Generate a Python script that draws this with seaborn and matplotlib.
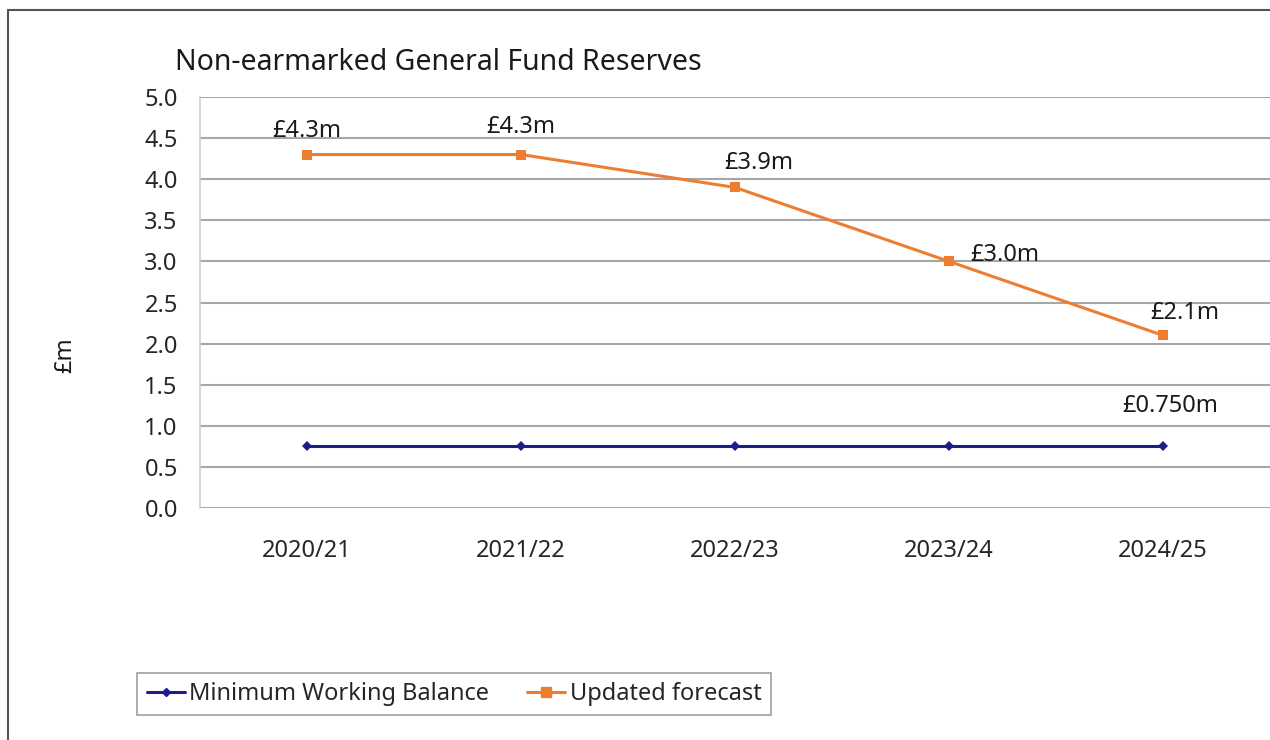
import matplotlib
matplotlib.use("Agg")
import matplotlib.pyplot as plt
import seaborn as sns
import pandas as pd
from matplotlib.lines import Line2D

# Data
years = ["2020/21", "2021/22", "2022/23", "2023/24", "2024/25"]
min_balance = [0.75, 0.75, 0.75, 0.75, 0.75]
forecast = [4.3, 4.3, 3.9, 3.0, 2.1]
forecast_labels = ["£4.3m", "£4.3m", "£3.9m", "£3.0m", "£2.1m"]
min_label = "£0.750m"
y_ticks = [0.0, 0.5, 1.0, 1.5, 2.0, 2.5, 3.0, 3.5, 4.0, 4.5, 5.0]

df = pd.DataFrame({
    "Year": years * 2,
    "Value": min_balance + forecast,
    "Series": ["Minimum Working Balance"] * 5 + ["Updated forecast"] * 5,
})

sns.set_style("white")
plt.rcParams["font.family"] = ["Noto Sans", "DejaVu Sans"]

blue = "#1c1c8c"
orange = "#ed7d31"
fs = 17

fig = plt.figure(figsize=(12.7, 7.4), dpi=100)
ax = fig.add_axes([200 / 1270, 1 - 508 / 740, 1 - 200 / 1270, (508 - 97) / 740])

sns.lineplot(data=df, x="Year", y="Value", hue="Series", style="Series",
             palette={"Minimum Working Balance": blue, "Updated forecast": orange},
             markers={"Minimum Working Balance": "D", "Updated forecast": "s"},
             dashes=False, markersize=5, linewidth=2.2, markeredgewidth=0,
             sort=False, legend=False, ax=ax)
# bigger squares on the forecast line
for ln in ax.lines:
    if ln.get_marker() == "s":
        ln.set_markersize(7)

ax.set_xlim(-0.5, 4.5)
ax.set_ylim(0, 5.0)
ax.set_yticks(y_ticks)
ax.set_yticklabels([f"{v:.1f}" for v in y_ticks])
ax.yaxis.grid(True, color="#a6a6a6", linewidth=1.5)
ax.set_axisbelow(True)
ax.tick_params(axis="y", length=8, color="#a6a6a6", width=1.5, labelsize=fs, pad=8)
ax.tick_params(axis="x", length=0, labelsize=fs, pad=22)
for side in ["top", "right", "bottom"]:
    ax.spines[side].set_visible(False)
ax.spines["left"].set_color("#d0d0d0")
ax.spines["left"].set_linewidth(1.2)
ax.set_xlabel("")
ax.set_ylabel("")

# data labels
offsets = [(0, 24), (0, 28), (24, 24), (56, 6), (22, 22)]
for i, (v, lab) in enumerate(zip(forecast, forecast_labels)):
    ax.annotate(lab, (i, v), xytext=offsets[i], textcoords="offset pixels",
                ha="center", va="center", fontsize=fs, color="#1a1a1a")
ax.annotate(min_label, (4, min_balance[-1]), xytext=(7, 40), textcoords="offset pixels",
            ha="center", va="center", fontsize=fs, color="#1a1a1a")

fig.text(65 / 1270, 1 - 355 / 740, "£m", rotation=90, fontsize=fs,
         ha="center", va="center", color="#1a1a1a")
fig.text(175 / 1270, 1 - 62 / 740, "Non-earmarked General Fund Reserves",
         fontsize=20.5, ha="left", va="center", color="#1a1a1a")

# legend
handles = [
    Line2D([], [], color=blue, marker="D", markersize=4, linewidth=2.2),
    Line2D([], [], color=orange, marker="s", markersize=7, linewidth=2.2),
]
leg = fig.legend(handles, ["Minimum Working Balance", "Updated forecast"],
                 loc="center", bbox_to_anchor=(454 / 1270, 1 - 694 / 740),
                 ncol=2, fontsize=fs, frameon=True, fancybox=False,
                 handlelength=1.6, handletextpad=0.2, columnspacing=1.6,
                 borderpad=0.4)
leg.get_frame().set_edgecolor("#888888")
leg.get_frame().set_linewidth(1.2)

# outer chart border (left and top visible)
fig.add_artist(Line2D([8 / 1270, 8 / 1270], [0, 1 - 10 / 740], color="#555555",
                      linewidth=1.5, transform=fig.transFigure))
fig.add_artist(Line2D([8 / 1270, 1], [1 - 10 / 740, 1 - 10 / 740], color="#555555",
                      linewidth=1.5, transform=fig.transFigure))

fig.savefig("out.png", dpi=100)
